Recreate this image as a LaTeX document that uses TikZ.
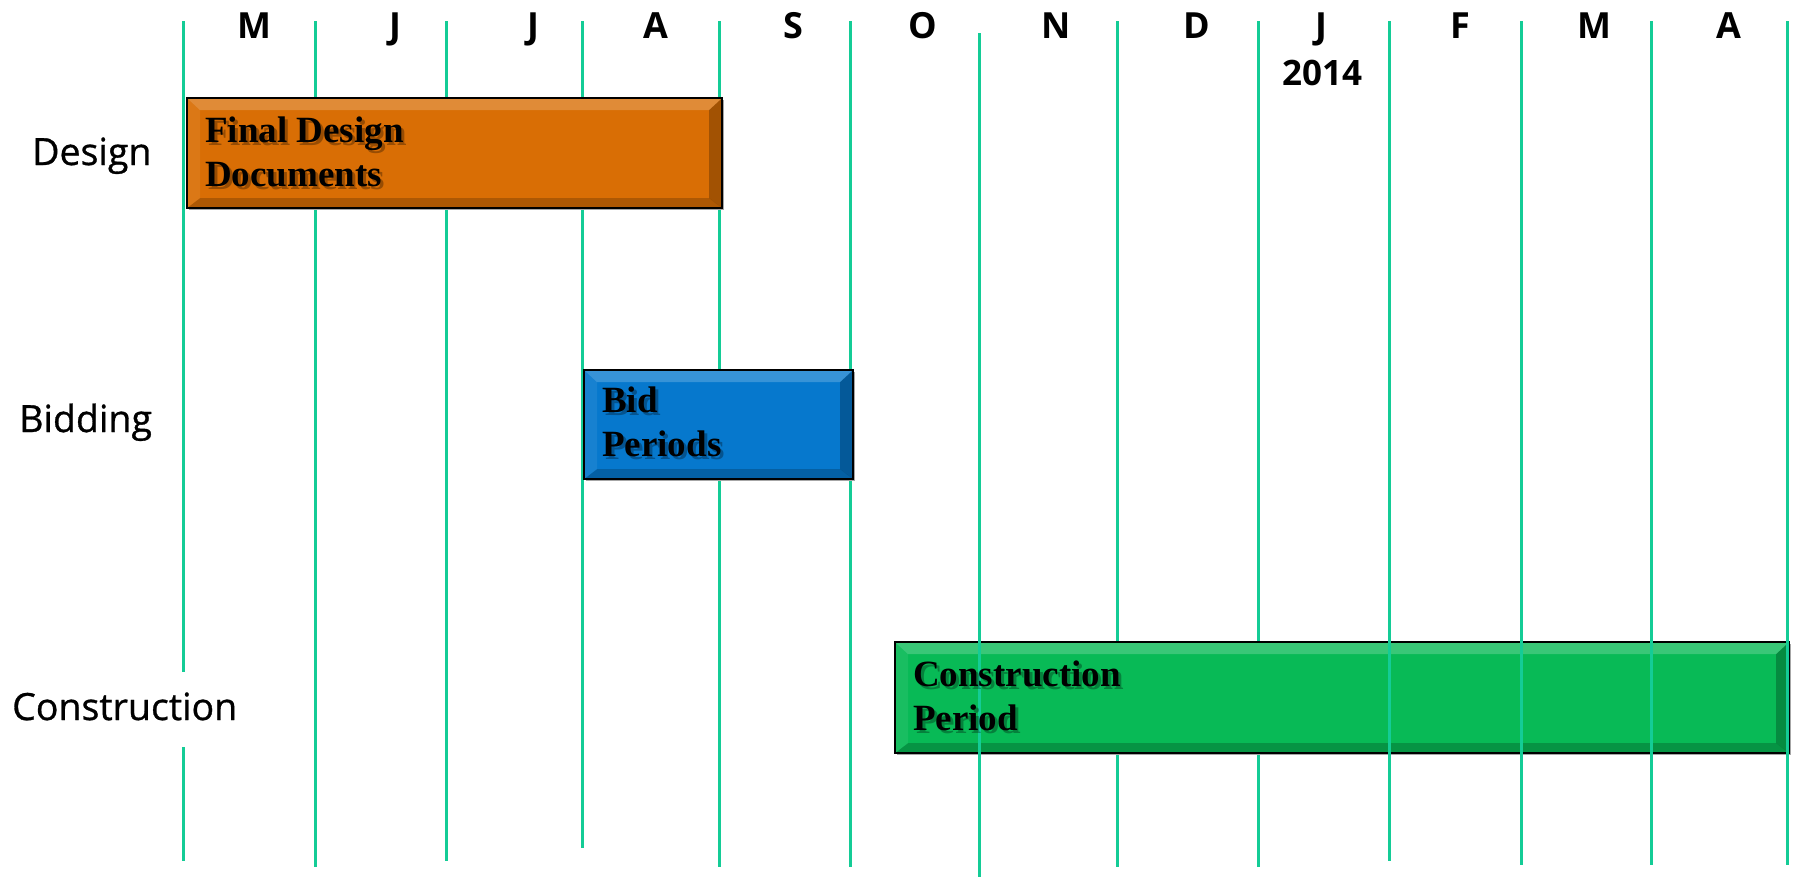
\documentclass[tikz,border=0pt]{standalone}
\usepackage{fontspec}
\setmainfont{Liberation Serif}
\newfontfamily\labfont{Open Sans}
\newfontfamily\rowfont[FakeBold=0.8]{Open Sans}
\usetikzlibrary{shadows}
\definecolor{gridc}{RGB}{20,204,150}
\definecolor{barorange}{RGB}{217,110,5}
\definecolor{barblue}{RGB}{6,120,205}
\definecolor{bargreen}{RGB}{8,186,86}
\tikzset{
  gridline/.style={draw=gridc, line width=3pt},
  monthlab/.style={anchor=base, inner sep=0pt, font={\labfont\fontsize{36}{40}\selectfont\bfseries}},
  rowlab/.style={anchor=base west, inner sep=0pt, font={\rowfont\fontsize{37.5}{42}\selectfont}},
  bartext/.style={anchor=north west, inner sep=0pt, align=left, font={\fontsize{37}{44}\selectfont\bfseries}},
  bevelbar/.style={anchor=north west, draw=black, line width=2.2pt, fill=#1, inner sep=0pt,
    general shadow={fill=black!35, shadow xshift=1.5pt, shadow yshift=-2pt},
    path picture={
      \coordinate (nw) at (path picture bounding box.north west);
      \coordinate (ne) at (path picture bounding box.north east);
      \coordinate (sw) at (path picture bounding box.south west);
      \coordinate (se) at (path picture bounding box.south east);
      \fill[white, opacity=0.20] (nw) -- (ne) -- ([xshift=-13pt,yshift=-12pt]ne) -- ([xshift=13pt,yshift=-12pt]nw) -- cycle;
      \fill[white, opacity=0.07] (nw) -- ([xshift=13pt,yshift=-12pt]nw) -- ([xshift=13pt,yshift=10pt]sw) -- (sw) -- cycle;
      \fill[black, opacity=0.20] (sw) -- (se) -- ([xshift=-13pt,yshift=10pt]se) -- ([xshift=13pt,yshift=10pt]sw) -- cycle;
      \fill[black, opacity=0.25] (ne) -- (se) -- ([xshift=-13pt,yshift=10pt]se) -- ([xshift=-13pt,yshift=-12pt]ne) -- cycle;
    }},
}
\newcommand{\shadowtext}[3]{%
  \node[bartext, text=black, opacity=0.3] at ([xshift=3pt,yshift=-3pt]#1) {#3};
  \node[bartext] (#2) at (#1) {#3};}
\begin{document}
\begin{tikzpicture}[x=1pt,y=-1pt]
\useasboundingbox (0,0) rectangle (1796,879);
% grid lines drawn beneath the bars
\draw[gridline] (183,21) -- (183,672);
\draw[gridline] (183,747) -- (183,861);
\draw[gridline] (315,21) -- (315,867);
\draw[gridline] (446,21) -- (446,861);
\draw[gridline] (582,21) -- (582,848);
\draw[gridline] (719,21) -- (719,867);
\draw[gridline] (850,21) -- (850,867);
\draw[gridline] (1117,21) -- (1117,867);
\draw[gridline] (1258,21) -- (1258,867);
% bars
\node[bevelbar=barorange, minimum width=535pt, minimum height=110pt] (design) at (186,97) {};
\node[bevelbar=barblue, minimum width=269pt, minimum height=109pt] (bid) at (583,369) {};
\node[bevelbar=bargreen, minimum width=894pt, minimum height=111pt] (constr) at (894,641) {};
% grid lines drawn over the construction bar
\draw[gridline] (979,33) -- (979,877);
\draw[gridline] (1389,21) -- (1389,861);
\draw[gridline] (1521,21) -- (1521,865);
\draw[gridline] (1651,21) -- (1651,865);
\draw[gridline] (1787,21) -- (1787,865);
% bar texts
\shadowtext{205,117}{designtxt}{Final Design\\Documents}
\shadowtext{602,387}{bidtxt}{Bid\\Periods}
\shadowtext{913,661}{constrtxt}{Construction\\Period}
% row labels
\node[rowlab] (rdesign) at (32,165) {Design};
\node[rowlab] (rbid) at (19,432) {Bidding};
\node[rowlab] (rconstr) at (12,720) {Construction};
% months
\node[monthlab] (m1) at (254,38) {M};
\node[monthlab] (m2) at (395,38) {J};
\node[monthlab] (m3) at (533,38) {J};
\node[monthlab] (m4) at (656,38) {A};
\node[monthlab] (m5) at (793,38) {S};
\node[monthlab] (m6) at (923,38) {O};
\node[monthlab] (m7) at (1056,38) {N};
\node[monthlab] (m8) at (1197,38) {D};
\node[monthlab] (m9) at (1321,38) {J};
\node[monthlab] (m10) at (1460,38) {F};
\node[monthlab] (m11) at (1594,38) {M};
\node[monthlab] (m12) at (1729,38) {A};
\node[monthlab, font={\labfont\fontsize{35}{38}\selectfont\bfseries}] (year) at (1322,85) {2014};
\end{tikzpicture}
\end{document}
